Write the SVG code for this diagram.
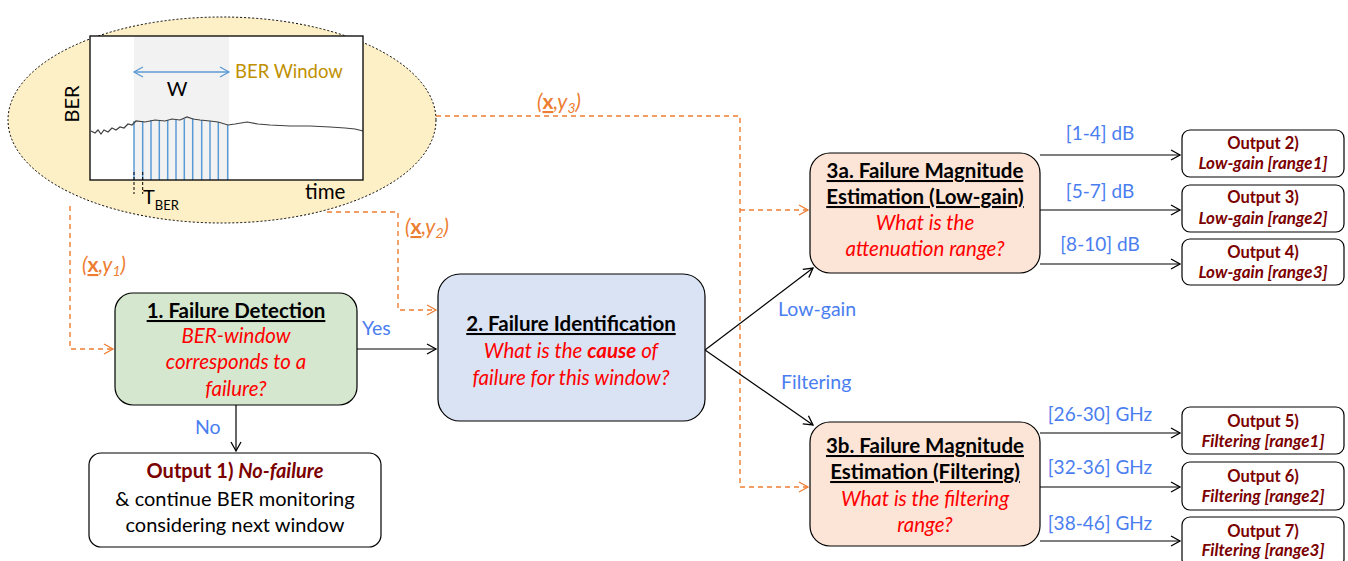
<svg xmlns="http://www.w3.org/2000/svg" width="1348" height="561" viewBox="0 0 1348 561">
<defs>
<marker id="ab" markerWidth="12" markerHeight="12" refX="10" refY="6" orient="auto" markerUnits="userSpaceOnUse"><path d="M1,1 L10,6 L1,11" fill="none" stroke="#000" stroke-width="1.3"/></marker>
<marker id="ao" markerWidth="12" markerHeight="12" refX="10" refY="6" orient="auto" markerUnits="userSpaceOnUse"><path d="M1,1 L10,6 L1,11" fill="none" stroke="#ed7d31" stroke-width="1.3"/></marker>
<marker id="abl" markerWidth="12" markerHeight="12" refX="10" refY="6" orient="auto-start-reverse" markerUnits="userSpaceOnUse"><path d="M1,1 L10,6 L1,11" fill="none" stroke="#5b9bd5" stroke-width="1.3"/></marker>
<style>
text{font-family:Lato,"Liberation Sans",sans-serif}
.box{stroke:#000;stroke-width:1.2}
.t{font-size:20.5px;font-weight:bold;text-anchor:middle;text-decoration:underline}
.q{font-size:20.5px;font-style:italic;fill:#ff0000;text-anchor:middle}
.o{font-size:16.5px;font-weight:bold;fill:#7b0000;text-anchor:middle}
.oi{font-style:italic;font-size:17px}
.o1{font-size:20px;font-weight:bold;fill:#7b0000}
.n{font-size:20px;text-anchor:middle}
.lbl{font-size:19.5px;fill:#4a7ef0}
.rl{font-size:19px;fill:#4a7ef0;text-anchor:middle}
.c{fill:none;stroke:#000;stroke-width:1.2}
.d{fill:none;stroke:#ed7d31;stroke-width:1.4;stroke-dasharray:5,4}
.xy{font-size:21px;font-style:italic;fill:#ed7d31}
.sub{font-size:14px}
</style>
</defs>

<g id="ber-plot">
<ellipse cx="222" cy="120" rx="214" ry="103" fill="#fdefc6" stroke="#000" stroke-width="1" stroke-dasharray="2,2"/>
<rect x="90" y="36" width="273" height="144" fill="#fff" stroke="none"/>
<rect x="134" y="36" width="95" height="144" fill="#f2f2f2"/>
<g stroke="#5b9bd5" stroke-width="1.5">
<line x1="134" y1="121" x2="134" y2="180"/><line x1="142.7" y1="121" x2="142.7" y2="180"/><line x1="151" y1="120" x2="151" y2="180"/><line x1="159.3" y1="120" x2="159.3" y2="180"/><line x1="167.7" y1="120" x2="167.7" y2="180"/><line x1="176" y1="119.5" x2="176" y2="180"/><line x1="184.3" y1="119" x2="184.3" y2="180"/><line x1="192.7" y1="118" x2="192.7" y2="180"/><line x1="201.7" y1="120" x2="201.7" y2="180"/><line x1="210" y1="121" x2="210" y2="180"/><line x1="218.3" y1="122" x2="218.3" y2="180"/><line x1="227.7" y1="125" x2="227.7" y2="180"/>
</g>
<path d="M91,131 L95,133 L98,130 L101,134 L104,130 L108,132 L112,128 L116,130 L120,127 L124,128 L128,124 L132,125 L136,121 L145,122 L155,120 L165,121 L172,119 L180,120 L187,117 L193,119 L200,120 L210,121 L218,122 L228,125 L235,124 L247,122 L258,124 L270,125 L290,126 L310,126 L330,127 L345,128 L355,129 L363,131" fill="none" stroke="#404040" stroke-width="1.2"/>
<rect x="90" y="36" width="273" height="144" fill="none" stroke="#000" stroke-width="1.3"/>
<line x1="134" y1="72" x2="229" y2="72" stroke="#5b9bd5" stroke-width="1.4" marker-start="url(#abl)" marker-end="url(#abl)"/>
<text x="235" y="78" font-size="18.5" fill="#c09000">BER Window</text>
<text x="177" y="96" font-size="20" text-anchor="middle">W</text>
<text transform="translate(79,104) rotate(-90)" font-size="20" text-anchor="middle">BER</text>
<g stroke="#000" stroke-width="1" stroke-dasharray="3,2"><line x1="134" y1="172" x2="134" y2="194"/><line x1="142.7" y1="172" x2="142.7" y2="194"/></g>
<text x="143" y="204" font-size="20">T<tspan font-size="13" dy="6">BER</tspan></text>
<text x="305" y="199" font-size="20.5">time</text>
</g>

<g id="connectors">
<path class="d" d="M70,206 L70,349 L113,349" marker-end="url(#ao)"/>
<path class="d" d="M327,212 L398,212 L398,310 L436,310" marker-end="url(#ao)"/>
<path class="d" d="M436,116 L740,116 L740,487 L808,487" marker-end="url(#ao)"/>
<path class="d" d="M740,210 L808,210" marker-end="url(#ao)"/>
<text class="xy" x="82" y="272">(<tspan font-weight="bold" font-style="normal" text-decoration="underline">x</tspan>,y<tspan class="sub" dy="4">1</tspan><tspan dy="-4">)</tspan></text>
<text class="xy" x="405" y="234">(<tspan font-weight="bold" font-style="normal" text-decoration="underline">x</tspan>,y<tspan class="sub" dy="4">2</tspan><tspan dy="-4">)</tspan></text>
<text class="xy" x="537" y="109">(<tspan font-weight="bold" font-style="normal" text-decoration="underline">x</tspan>,y<tspan class="sub" dy="4">3</tspan><tspan dy="-4">)</tspan></text>

<line class="c" x1="357" y1="349" x2="436" y2="349" marker-end="url(#ab)"/>
<text class="lbl" x="362" y="335">Yes</text>
<line class="c" x1="236" y1="405" x2="236" y2="451" marker-end="url(#ab)"/>
<text class="lbl" x="195" y="434">No</text>
<line class="c" x1="705" y1="350" x2="813" y2="268" marker-end="url(#ab)"/>
<line class="c" x1="705" y1="350" x2="813" y2="425" marker-end="url(#ab)"/>
<text class="lbl" x="778" y="316">Low-gain</text>
<text class="lbl" x="781" y="389">Filtering</text>

<line class="c" x1="1040" y1="155" x2="1180" y2="155" marker-end="url(#ab)"/>
<line class="c" x1="1040" y1="210" x2="1180" y2="210" marker-end="url(#ab)"/>
<line class="c" x1="1040" y1="264" x2="1180" y2="264" marker-end="url(#ab)"/>
<line class="c" x1="1040" y1="433" x2="1180" y2="433" marker-end="url(#ab)"/>
<line class="c" x1="1040" y1="487" x2="1180" y2="487" marker-end="url(#ab)"/>
<line class="c" x1="1040" y1="541" x2="1180" y2="541" marker-end="url(#ab)"/>
<text class="rl" x="1100" y="140">[1-4] dB</text>
<text class="rl" x="1100" y="198">[5-7] dB</text>
<text class="rl" x="1100" y="251">[8-10] dB</text>
<text class="rl" x="1100" y="421">[26-30] GHz</text>
<text class="rl" x="1100" y="474">[32-36] GHz</text>
<text class="rl" x="1100" y="530">[38-46] GHz</text>
</g>

<g id="failure-detection">
<rect class="box" x="115" y="293" width="242" height="112" rx="18" fill="#d5e8cf"/>
<text class="t" x="236" y="318">1. Failure Detection</text>
<text class="q" x="236" y="343">BER-window</text>
<text class="q" x="236" y="369">corresponds to a</text>
<text class="q" x="236" y="396">failure?</text>
</g>

<g id="failure-identification">
<rect class="box" x="438" y="274" width="267" height="147" rx="22" fill="#dae3f3"/>
<text class="t" x="571" y="331">2. Failure Identification</text>
<text class="q" x="571" y="358">What is the <tspan font-weight="bold">cause</tspan> of</text>
<text class="q" x="571" y="385">failure for this window?</text>
</g>

<g id="output1">
<rect class="box" x="89" y="453" width="292" height="94" rx="12" fill="#fff"/>
<text class="o1" x="235" y="478" text-anchor="middle">Output 1) <tspan font-style="italic">No-failure</tspan></text>
<text class="n" x="235" y="506">&amp; continue BER monitoring</text>
<text class="n" x="235" y="532">considering next window</text>
</g>

<g id="magnitude-lowgain">
<rect class="box" x="810" y="153" width="230" height="120" rx="20" fill="#fce4d6"/>
<text class="t" x="925" y="178">3a. Failure Magnitude</text>
<text class="t" x="925" y="204">Estimation (Low-gain)</text>
<text class="q" x="925" y="230">What is the</text>
<text class="q" x="925" y="256">attenuation range?</text>
</g>

<g id="magnitude-filtering">
<rect class="box" x="810" y="422" width="230" height="124" rx="20" fill="#fce4d6"/>
<text class="t" x="925" y="453">3b. Failure Magnitude</text>
<text class="t" x="925" y="479">Estimation (Filtering)</text>
<text class="q" x="925" y="506">What is the filtering</text>
<text class="q" x="925" y="532">range?</text>
</g>

<g id="output2"><rect class="box" x="1182" y="130" width="162" height="47" rx="8" fill="#fff"/><text class="o" x="1263" y="149">Output 2)</text><text class="o oi" x="1263" y="169">Low-gain [range1]</text></g>
<g id="output3"><rect class="box" x="1182" y="185" width="162" height="47" rx="8" fill="#fff"/><text class="o" x="1263" y="203">Output 3)</text><text class="o oi" x="1263" y="224">Low-gain [range2]</text></g>
<g id="output4"><rect class="box" x="1182" y="239" width="162" height="46" rx="8" fill="#fff"/><text class="o" x="1263" y="258">Output 4)</text><text class="o oi" x="1263" y="278">Low-gain [range3]</text></g>
<g id="output5"><rect class="box" x="1182" y="407" width="162" height="47" rx="8" fill="#fff"/><text class="o" x="1263" y="427">Output 5)</text><text class="o oi" x="1263" y="447">Filtering [range1]</text></g>
<g id="output6"><rect class="box" x="1182" y="462" width="162" height="48" rx="8" fill="#fff"/><text class="o" x="1263" y="482">Output 6)</text><text class="o oi" x="1263" y="502">Filtering [range2]</text></g>
<g id="output7"><rect class="box" x="1182" y="517" width="162" height="50" rx="8" fill="#fff"/><text class="o" x="1263" y="537">Output 7)</text><text class="o oi" x="1263" y="556">Filtering [range3]</text></g>
</svg>
